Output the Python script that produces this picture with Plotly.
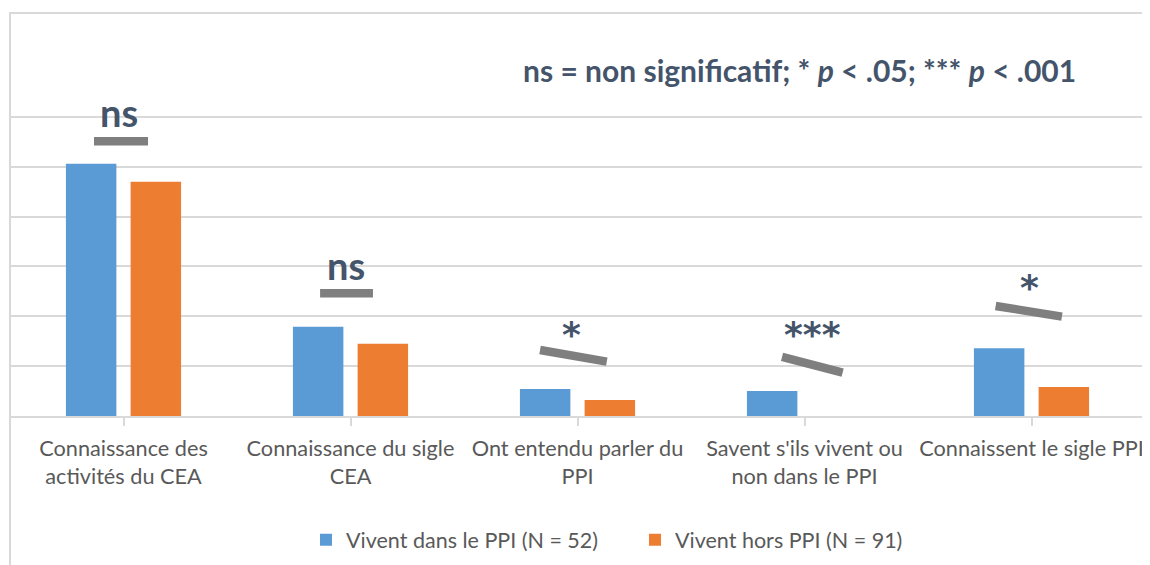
import plotly.graph_objects as go

categories = [
    "Connaissance des<br>activités du CEA",
    "Connaissance du sigle<br>CEA",
    "Ont entendu parler du<br>PPI",
    "Savent s'ils vivent ou<br>non dans le PPI",
    "Connaissent le sigle PPI",
]
series_names = ["Vivent dans le PPI (N = 52)", "Vivent hors PPI (N = 91)"]
in_ppi = [50.6, 17.9, 5.4, 5.0, 13.6]
out_ppi = [47.0, 14.5, 3.2, 0.0, 5.8]
sig_labels = ["ns", "ns", "*", "***", "*"]
grid_vals = [0, 10, 20, 30, 40, 50, 60]

# annotation placement (category index units / data units)
sig_text_pos = [(-0.02, 60.9), (0.98, 30.2), (1.974, 16.3), (3.037, 16.3), (3.993, 25.8)]
sig_lines = [
    ((-0.130, 55.1), (0.108, 55.1)),
    ((0.866, 24.6), (1.099, 24.6)),
    ((1.835, 13.25), (2.129, 10.9)),
    ((2.901, 11.84), (3.168, 8.69)),
    ((3.842, 22.07), (4.134, 19.93)),
]

BLUE = "#5B9BD5"
ORANGE = "#ED7D31"
GRID = "#D9D9D9"
TXT = "#595959"
SIG = "#44546A"
FONT = "Lato"

x_idx = list(range(len(categories)))

fig = go.Figure()
fig.add_trace(go.Bar(x=x_idx, y=in_ppi, name=series_names[0], marker=dict(color=BLUE, line=dict(width=0))))
fig.add_trace(go.Bar(x=x_idx, y=out_ppi, name=series_names[1], marker=dict(color=ORANGE, line=dict(width=0))))

shapes = []
for (p0, p1) in sig_lines:
    shapes.append(dict(type="line", xref="x", yref="y", x0=p0[0], y0=p0[1], x1=p1[0], y1=p1[1],
                       line=dict(color="#7F7F7F", width=8.5), layer="above"))
# chart border (cropped frame): top and left
shapes.append(dict(type="path", xref="paper", yref="paper",
                   path="M 0,-0.6 L 0,1.1547 L 1.2,1.1547",
                   line=dict(color=GRID, width=2)))

annotations = []
for lab, (tx, ty) in zip(sig_labels, sig_text_pos):
    is_star = lab.startswith("*")
    annotations.append(dict(x=tx, y=ty, xref="x", yref="y", text=f"<b>{lab}</b>", showarrow=False,
                            xanchor="center", yanchor="middle",
                            font=dict(family="DejaVu Sans" if is_star else FONT,
                                      size=36 if is_star else 38, color=SIG)))
annotations.append(dict(x=0.696, y=0.991, xref="paper", yref="paper",
                        text="<b>ns = non significatif; * <i>p</i> &lt; .05; *** <i>p</i> &lt; .001</b>",
                        showarrow=False, xanchor="center", yanchor="middle",
                        font=dict(family=FONT, size=30, color=SIG)))

fig.update_layout(
    width=1142, height=557,
    margin=dict(l=2, r=5, t=59, b=149),
    paper_bgcolor="white", plot_bgcolor="white",
    barmode="group", bargap=0.43, bargroupgap=0.22,
    font=dict(family=FONT, size=22, color=TXT),
    shapes=shapes, annotations=annotations,
    legend=dict(orientation="h", x=0.2608, y=-0.355, xanchor="left", yanchor="middle",
                font=dict(family=FONT, size=21.5, color=TXT), itemwidth=30,
                entrywidth=284, entrywidthmode="pixels", bgcolor="rgba(0,0,0,0)"),
    showlegend=True,
)
fig.update_xaxes(
    tickmode="array", tickvals=x_idx, ticktext=categories, range=[-0.5, len(categories) - 0.5],
    showline=True, linecolor=GRID, linewidth=2, ticks="outside", tickson="boundaries",
    ticklen=8, tickcolor=GRID, tickwidth=2, showgrid=False, zeroline=False,
    ticklabelstandoff=4,
    tickfont=dict(family=FONT, size=21.7, color=TXT),
)
fig.update_yaxes(
    range=[0, 70], tickmode="array", tickvals=grid_vals, showticklabels=False,
    showgrid=True, gridcolor=GRID, gridwidth=2,
    zeroline=False, showline=False, ticks="",
)

fig.write_html("out.html")
